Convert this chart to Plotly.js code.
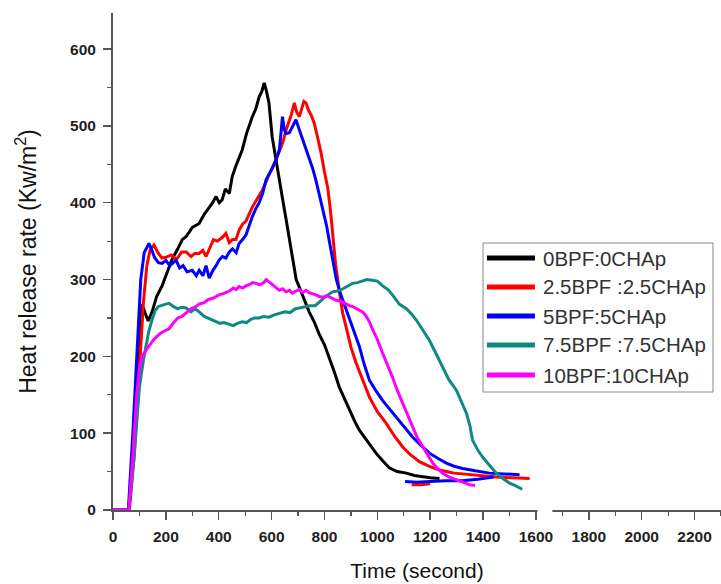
<!DOCTYPE html>
<html><head><meta charset="utf-8">
<script src="https://cdn.plot.ly/plotly-3.0.1.min.js"></script>
<style>html,body{margin:0;padding:0;background:#fff}</style>
</head><body><div id="chart" style="width:721px;height:584px"></div>
<script>
// ---- data ----
const seriesNames = ["0BPF:0CHAp", "2.5BPF :2.5CHAp", "5BPF:5CHAp", "7.5BPF :7.5CHAp", "10BPF:10CHAp"];

const t0 = [0,60,80,100,110,122,133,148,165,186,205,223,245,262,277,300,326,345,360,375,390,402,413,425,440,451,465,478,489,505,515,527,540,553,563,572,580,590,602,615,629,642,655,667,678,693,705,720,742,761,780,800,818,837,856,875,894,915,932,950,970,995,1020,1045,1075,1110,1140,1172,1200,1235];
const v0 = [0,0,95,205,268,256,246,258,278,292,310,326,340,352,356,368,373,385,392,399,408,400,404,418,412,434,448,460,469,490,500,512,522,538,545,556,546,530,486,458,430,404,378,354,330,300,290,276,258,245,229,215,199,180,160,145,130,115,104,95,86,74,64,55,50,48,45,43,42,41];

const t1 = [0,62,80,100,115,128,140,155,170,185,200,220,240,260,277,295,310,326,340,352,365,380,395,414,427,440,452,465,478,490,503,515,528,540,553,566,580,592,605,617,630,642,655,665,675,686,695,705,715,722,730,740,750,761,774,787,800,812,822,831,842,856,869,882,900,920,945,970,1000,1033,1065,1096,1125,1159,1195,1235,1290,1348,1400,1450,1510,1576];
const v1 = [0,0,70,190,270,318,338,345,335,328,329,332,326,336,336,330,334,334,338,330,340,352,350,355,360,348,352,352,365,372,376,386,395,402,410,417,428,438,446,456,466,478,495,505,515,530,518,512,522,532,530,520,514,504,485,465,440,420,392,360,320,285,256,238,212,191,168,147,128,113,96,82,72,63,57,52,48,46,44,43,42,41];
const t1tail = [1130,1165,1200];
const v1tail = [33,33,34];

const t2 = [0,58,75,90,105,118,128,136,145,158,172,186,200,215,228,239,252,265,280,300,315,326,340,352,364,378,390,401,414,427,440,452,466,477,490,503,515,527,540,553,566,579,592,605,617,630,641,648,655,667,680,692,700,710,717,730,742,755,767,780,795,808,820,832,845,860,880,906,932,950,970,995,1019,1045,1071,1100,1133,1165,1197,1230,1261,1290,1323,1370,1424,1480,1538];
const v2 = [0,0,100,205,300,335,343,347,340,328,322,321,325,318,322,325,315,318,310,312,305,312,305,318,302,312,318,325,330,328,336,340,335,347,352,358,370,382,392,400,412,430,438,448,456,470,512,495,490,491,500,508,500,490,482,470,460,445,430,412,390,370,347,322,300,282,262,238,213,190,169,155,143,132,121,108,95,84,74,67,61,57,54,51,48,47,46];
const t2tail = [1105,1150,1200,1260,1320,1380,1440];
const v2tail = [37,36,37,38,38,40,43];

const t3 = [0,60,80,100,115,125,135,148,160,172,186,200,212,228,245,260,277,295,310,326,345,360,375,390,405,420,439,455,470,489,505,520,535,553,570,590,610,630,650,670,690,705,725,745,765,785,805,830,850,870,890,906,925,944,960,980,1000,1019,1040,1057,1083,1110,1130,1148,1170,1197,1220,1246,1270,1299,1320,1337,1350,1360,1380,1398,1420,1450,1475,1500,1520,1538,1548];
const v3 = [0,0,70,160,195,215,232,248,260,265,267,268,269,265,262,264,263,258,262,258,252,250,247,245,243,244,242,240,243,245,244,248,250,250,252,251,254,256,258,257,262,263,265,266,266,272,278,284,285,288,292,295,296,298,300,299,298,292,287,280,268,262,255,247,235,221,205,186,170,156,140,126,110,91,78,69,60,48,41,35,32,29,27];

const t4 = [0,60,75,90,100,110,125,140,150,163,180,195,212,230,245,261,280,295,310,326,345,360,380,401,420,440,455,466,477,490,505,520,527,541,555,570,580,591,605,618,629,642,655,668,678,692,705,718,730,742,755,768,780,795,810,830,844,860,882,894,906,920,932,944,958,970,982,1000,1019,1038,1057,1075,1096,1115,1133,1150,1172,1190,1210,1228,1246,1270,1299,1320,1348,1370];
const v4 = [0,0,70,150,185,200,208,216,220,225,230,233,236,244,250,252,258,262,264,268,270,274,276,280,282,285,289,287,291,289,292,294,296,295,293,296,300,297,293,290,286,288,284,286,282,285,287,283,286,283,282,280,278,277,279,275,273,272,268,266,265,262,260,258,252,245,235,222,205,190,173,156,139,124,108,95,82,72,61,54,48,43,39,36,33,32];

const xTickVals = [0,200,400,600,800,1000,1200,1400,1600,1800,2000,2200];
const yTickVals = [0,100,200,300,400,500,600];

// ---- styles ----
const colors = ["#000000", "#ff0000", "#0000ff", "#0f8a80", "#ff00ff"];
const xs = [t0, t1.concat([null], t1tail), t2.concat([null], t2tail), t3, t4];
const ys = [v0, v1.concat([null], v1tail), v2.concat([null], v2tail), v3, v4];

const traces = seriesNames.map((n, i) => ({
  x: xs[i], y: ys[i], name: n, type: 'scatter', mode: 'lines',
  line: {color: colors[i], width: 3}, showlegend: false, hoverinfo: 'skip'
}));

// custom legend (paper coordinates)
const legX0 = 0.6086, legX1 = 0.9868, legY0 = 0.2374, legY1 = 0.5372;
const rowY = [0.507, 0.4487, 0.3903, 0.332, 0.2716];
const shapes = [
  {type:'rect', xref:'paper', yref:'paper', x0:legX0, x1:legX1, y0:legY0, y1:legY1,
   line:{color:'#8a8a8a', width:1}, fillcolor:'rgba(255,255,255,0)', layer:'above'},
  // axis break gap
  {type:'rect', xref:'x', yref:'paper', x0:1606, x1:1662, y0:-0.008, y1:0.008,
   line:{width:0}, fillcolor:'#ffffff', layer:'above'}
];
const annotations = [];
seriesNames.forEach((n, i) => {
  shapes.push({type:'line', xref:'paper', yref:'paper', x0:0.615, x1:0.694, y0:rowY[i], y1:rowY[i],
    line:{color:colors[i], width:5}, layer:'above'});
  annotations.push({xref:'paper', yref:'paper', x:0.704, y:rowY[i], xanchor:'left', yanchor:'middle',
    text:n, showarrow:false, font:{family:'Arial, Liberation Sans, sans-serif', size:20.5, color:'#333'}});
});

const axisCommon = {
  showline:true, linecolor:'#555', linewidth:2, showgrid:false, zeroline:false,
  ticks:'outside', ticklen:8, tickwidth:1.5, tickcolor:'#555',
  tickfont:{family:'Arial, Liberation Sans, sans-serif', size:15.5, color:'#222', weight:'bold'}
};

const layout = {
  width:721, height:584,
  margin:{l:113, r:0, t:13, b:74},
  paper_bgcolor:'#fff', plot_bgcolor:'#fff',
  xaxis: Object.assign({}, axisCommon, {
    range:[0,2300], tickvals:xTickVals, ticktext:xTickVals.map(String),
    minor:{dtick:100, tick0:0, ticks:'outside', ticklen:4, tickwidth:1.2, tickcolor:'#555'},
    ticklabelstandoff:3,
    title:{text:'Time (second)', standoff:20,
      font:{family:'Arial, Liberation Sans, sans-serif', size:21, color:'#111'}}
  }),
  yaxis: Object.assign({}, axisCommon, {
    range:[0,647], tickvals:yTickVals, ticktext:yTickVals.map(String),
    minor:{dtick:50, tick0:0, ticks:'outside', ticklen:4, tickwidth:1.2, tickcolor:'#555'},
    ticklabelstandoff:4,
    title:{text:'Heat release rate (Kw/m<sup>2</sup>)', standoff:27,
      font:{family:'Arial, Liberation Sans, sans-serif', size:23, color:'#111'}}
  }),
  shapes: shapes,
  annotations: annotations,
  showlegend:false
};

Plotly.newPlot('chart', traces, layout, {staticPlot:true, displayModeBar:false});
</script></body></html>
